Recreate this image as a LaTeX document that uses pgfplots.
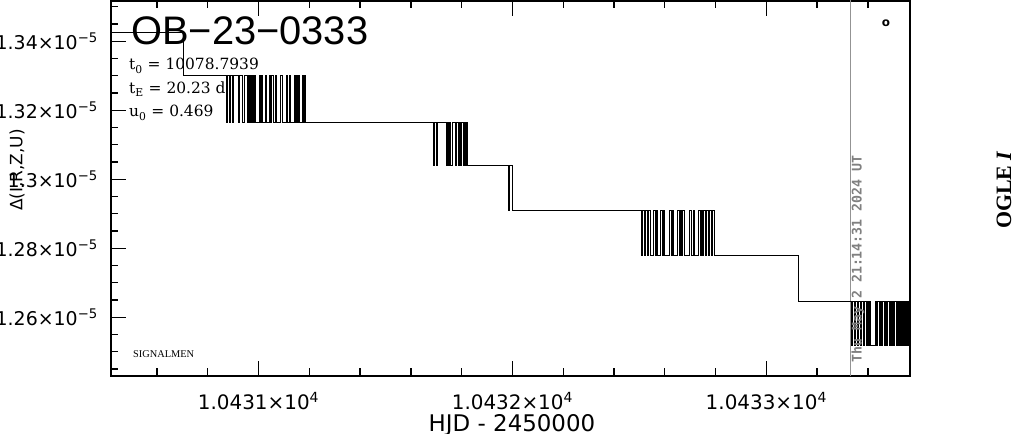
\documentclass[border=0pt]{standalone}
\usepackage{fontspec}
\setmainfont{DejaVu Sans}
\newfontfamily\titlefont{Liberation Sans}
\newfontfamily\dserif{DejaVu Serif}
\newfontfamily\lserif{Liberation Serif}
\newfontfamily\dmono{DejaVu Sans Mono}
\usepackage{pgfplots}
\pgfplotsset{compat=1.18}
\begin{document}
\begin{tikzpicture}[x=1bp,y=1bp]
\begin{axis}[
  at={(111bp,58bp)}, anchor=south west,
  width=799bp, height=375bp, scale only axis,
  xmin=10430.419, xmax=10433.566,
  ymin=1.24299e-5, ymax=1.35168e-5,
  scaled x ticks=false, scaled y ticks=false,
  xtick={10431,10432,10433},
  xticklabels={1.0431×10\textsuperscript{4},1.0432×10\textsuperscript{4},1.0433×10\textsuperscript{4}},
  minor xtick={10430.6,10430.8,10431.2,10431.4,10431.6,10431.8,10432.2,10432.4,10432.6,10432.8,10433.2,10433.4},
  ytick={1.26e-5,1.28e-5,1.30e-5,1.32e-5,1.34e-5},
  yticklabels={1.26×10\textsuperscript{−5},1.28×10\textsuperscript{−5},1.3×10\textsuperscript{−5},1.32×10\textsuperscript{−5},1.34×10\textsuperscript{−5}},
  minor ytick={1.245e-5,1.25e-5,1.255e-5,1.265e-5,1.27e-5,1.275e-5,1.285e-5,1.29e-5,1.295e-5,1.305e-5,1.31e-5,1.315e-5,1.325e-5,1.33e-5,1.335e-5,1.345e-5,1.35e-5},
  ytick pos=left,
  tick align=inside,
  major tick length=15bp, minor tick length=7.5bp,
  tick style={black, line width=1.3bp},
  axis line style={line width=2bp},
  xticklabel style={font=\fontsize{20}{22}\selectfont, inner sep=0pt, yshift=-16bp},
  yticklabel style={font=\fontsize{19}{21}\selectfont, inner sep=0pt, anchor=east, xshift=-13bp},
]
\addplot[gray!85, line width=0.9bp] coordinates {(10433.331,1.24e-5) (10433.331,1.36e-5)};
\addplot[const plot, black, line width=0.8bp] coordinates {
(10430.40,1.3427e-5)
(10430.7047,1.3302e-5)
(10430.8740,1.3166e-5) (10430.8780,1.3302e-5)
(10430.8858,1.3166e-5) (10430.8898,1.3302e-5)
(10430.8976,1.3166e-5) (10430.9016,1.3302e-5)
(10430.9213,1.3166e-5) (10430.9252,1.3302e-5)
(10430.9370,1.3166e-5) (10430.9449,1.3302e-5)
(10430.9567,1.3166e-5) (10430.9606,1.3302e-5)
(10430.9646,1.3166e-5) (10430.9685,1.3302e-5)
(10430.9724,1.3166e-5) (10430.9764,1.3302e-5)
(10430.9803,1.3166e-5) (10430.9843,1.3302e-5)
(10430.9882,1.3166e-5)
(10431.0039,1.3302e-5) (10431.0079,1.3166e-5)
(10431.0118,1.3302e-5) (10431.0157,1.3166e-5)
(10431.0276,1.3302e-5) (10431.0315,1.3166e-5)
(10431.0433,1.3302e-5) (10431.0472,1.3166e-5)
(10431.0512,1.3302e-5) (10431.0591,1.3166e-5)
(10431.0669,1.3302e-5) (10431.0709,1.3166e-5)
(10431.0866,1.3302e-5) (10431.0945,1.3166e-5)
(10431.1102,1.3302e-5) (10431.1142,1.3166e-5)
(10431.1220,1.3302e-5) (10431.1260,1.3166e-5)
(10431.1417,1.3302e-5) (10431.1457,1.3166e-5)
(10431.1496,1.3302e-5) (10431.1535,1.3166e-5)
(10431.1575,1.3302e-5) (10431.1614,1.3166e-5)
(10431.1732,1.3302e-5) (10431.1772,1.3166e-5)
(10431.1811,1.3302e-5) (10431.1850,1.3166e-5)
(10431.6890,1.3039e-5) (10431.6929,1.3166e-5)
(10431.7008,1.3039e-5) (10431.7047,1.3166e-5)
(10431.7402,1.3039e-5) (10431.7441,1.3166e-5)
(10431.7480,1.3039e-5) (10431.7520,1.3166e-5)
(10431.7559,1.3039e-5) (10431.7638,1.3166e-5)
(10431.7756,1.3039e-5) (10431.7795,1.3166e-5)
(10431.7874,1.3039e-5) (10431.7913,1.3166e-5)
(10431.7953,1.3039e-5) (10431.7992,1.3166e-5)
(10431.8071,1.3039e-5) (10431.8110,1.3166e-5)
(10431.8150,1.3039e-5) (10431.8189,1.3166e-5)
(10431.8228,1.3039e-5)
(10431.9843,1.2910e-5) (10431.9882,1.3039e-5)
(10432.0000,1.2910e-5)
(10432.5079,1.2778e-5) (10432.5118,1.2910e-5)
(10432.5197,1.2778e-5) (10432.5236,1.2910e-5)
(10432.5315,1.2778e-5) (10432.5354,1.2910e-5)
(10432.5433,1.2778e-5) (10432.5551,1.2910e-5)
(10432.5630,1.2778e-5) (10432.5669,1.2910e-5)
(10432.5709,1.2778e-5) (10432.5827,1.2910e-5)
(10432.5906,1.2778e-5) (10432.5945,1.2910e-5)
(10432.5984,1.2778e-5) (10432.6181,1.2910e-5)
(10432.6260,1.2778e-5) (10432.6299,1.2910e-5)
(10432.6339,1.2778e-5) (10432.6496,1.2910e-5)
(10432.6575,1.2778e-5) (10432.6614,1.2910e-5)
(10432.6654,1.2778e-5) (10432.6693,1.2910e-5)
(10432.6772,1.2778e-5) (10432.6969,1.2910e-5)
(10432.7047,1.2778e-5) (10432.7126,1.2910e-5)
(10432.7165,1.2778e-5) (10432.7323,1.2910e-5)
(10432.7402,1.2778e-5) (10432.7441,1.2910e-5)
(10432.7480,1.2778e-5) (10432.7520,1.2910e-5)
(10432.7598,1.2778e-5) (10432.7638,1.2910e-5)
(10432.7717,1.2778e-5) (10432.7756,1.2910e-5)
(10432.7835,1.2778e-5) (10432.7874,1.2910e-5)
(10432.7953,1.2778e-5)
(10433.1260,1.2647e-5)
(10433.3346,1.2520e-5) (10433.3386,1.2647e-5)
(10433.3465,1.2520e-5) (10433.3504,1.2647e-5)
(10433.3583,1.2520e-5) (10433.3622,1.2647e-5)
(10433.3701,1.2520e-5) (10433.3740,1.2647e-5)
(10433.3819,1.2520e-5) (10433.3858,1.2647e-5)
(10433.3937,1.2520e-5) (10433.3976,1.2647e-5)
(10433.4016,1.2520e-5) (10433.4055,1.2647e-5)
(10433.4094,1.2520e-5) (10433.4291,1.2647e-5)
(10433.4331,1.2520e-5) (10433.4370,1.2647e-5)
(10433.4449,1.2520e-5) (10433.4488,1.2647e-5)
(10433.4528,1.2520e-5) (10433.4567,1.2647e-5)
(10433.4646,1.2520e-5) (10433.4685,1.2647e-5)
(10433.4724,1.2520e-5) (10433.4764,1.2647e-5)
(10433.4842,1.2520e-5) (10433.4882,1.2647e-5)
(10433.4921,1.2520e-5) (10433.4961,1.2647e-5)
(10433.5000,1.2520e-5) (10433.5039,1.2647e-5)
(10433.5118,1.2520e-5) (10433.5157,1.2647e-5)
(10433.5197,1.2520e-5) (10433.5236,1.2647e-5)
(10433.5276,1.2520e-5) (10433.5315,1.2647e-5)
(10433.5354,1.2520e-5) (10433.5394,1.2647e-5)
(10433.5433,1.2520e-5) (10433.5472,1.2647e-5)
(10433.5512,1.2520e-5) (10433.5551,1.2647e-5)
(10433.5591,1.2520e-5)
(10433.6000,1.2520e-5)
};
\end{axis}
% texts
\node[anchor=west, inner sep=0pt, font=\titlefont\fontsize{40}{41}\selectfont] at (131,403) {OB−23−0333};
\node[anchor=base west, inner sep=0pt, font=\dserif\fontsize{15.5}{17}\selectfont] at (129,364) {t\textsubscript{0} = 10078.7939};
\node[anchor=base west, inner sep=0pt, font=\dserif\fontsize{15.5}{17}\selectfont] at (129,340) {t\textsubscript{E} = 20.23 d};
\node[anchor=base west, inner sep=0pt, font=\dserif\fontsize{15.5}{17}\selectfont] at (129,317) {u\textsubscript{0} = 0.469};
\node[anchor=west, inner sep=0pt, font=\lserif\fontsize{10.4}{12}\selectfont] at (133,80) {SIGNALMEN};
\node[rotate=90, inner sep=0pt, text=gray, font=\dmono\bfseries\fontsize{13.3}{14}\selectfont] at (858,175) {Thu May 2 21:14:31 2024 UT};
\node[inner sep=0pt, font=\bfseries\fontsize{12}{12}\selectfont] at (886,411) {o};
\node[inner sep=0pt, font=\fontsize{23}{24}\selectfont] at (512,9) {HJD - 2450000};
\node[rotate=90, inner sep=0pt, font=\fontsize{17}{18}\selectfont] at (17,264) {Δ(I,R,Z,U)};
\node[rotate=90, inner sep=0pt, font=\lserif\bfseries\fontsize{22}{23}\selectfont] at (1004,244) {OGLE \textit{I}};
\pgfresetboundingbox
\useasboundingbox (0,0) rectangle (1014,434);
\end{tikzpicture}
\end{document}
